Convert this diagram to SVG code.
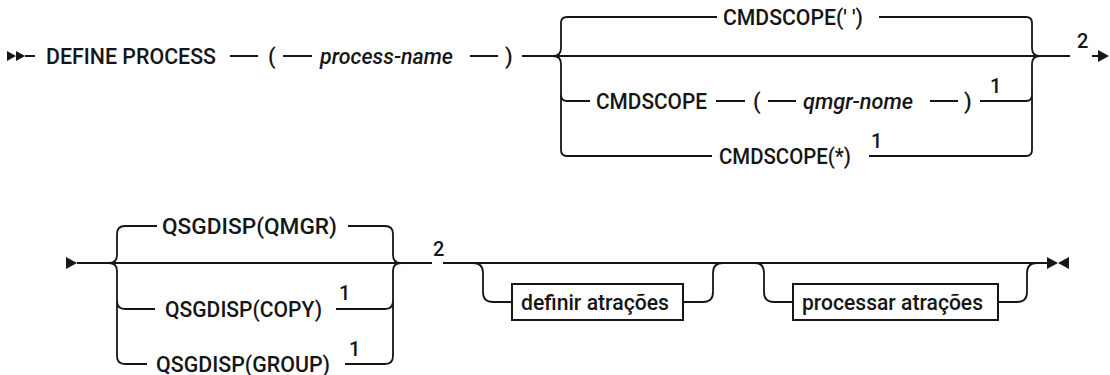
<svg xmlns="http://www.w3.org/2000/svg" width="1110" height="375" viewBox="0 0 1110 375">
<style>
.t{font-family:Roboto,"Liberation Sans",Arial,sans-serif;font-size:22px;font-weight:500;fill:#161616}
.i{font-style:italic}
.n{font-size:20px}
.c{fill:none;stroke:#161616;stroke-width:1.8}
.b{fill:#fff;stroke:#161616;stroke-width:2}
.m{fill:#161616}
</style>
<rect width="1110" height="375" fill="#fff"/>
<g id="connectors">
<path class="c" d="M25,56 H35 M230,56 H258 M283,56 H312 M470,56 H498 M522,56 H1070 M1092,56 H1100"/>
<path class="c" d="M717,17 H567 Q561,17 561,23 V48 Q561,56 553,56 Q561,56 561,64 V150 Q561,156 567,156 H712"/>
<path class="c" d="M561,95 Q561,101 567,101 H590 M716,101 H745 M768,101 H796 M930,101 H958 M980,101 H1026 Q1032,101 1032,95"/>
<path class="c" d="M879,17 H1026 Q1032,17 1032,23 V48 Q1032,56 1040,56 Q1032,56 1032,64 V150 Q1032,156 1026,156 H869"/>
<path class="c" d="M77,263 H432 M443,263 H1047"/>
<path class="c" d="M157,226 H125 Q117,226 117,234 V255 Q117,263 109,263 Q117,263 117,271 V356 Q117,364 125,364 H147 M117,301 Q117,309 125,309 H155"/>
<path class="c" d="M348,226 H385 Q393,226 393,234 V255 Q393,263 401,263 Q393,263 393,271 V356 Q393,364 385,364 H345 M336,309 H385 Q393,309 393,301"/>
<path class="c" d="M473,263 Q483,263 483,273 V292 Q483,302 493,302 H512 M683,302 H703 Q713,302 713,292 V273 Q713,263 723,263"/>
<path class="c" d="M755,263 Q764,263 764,273 V292 Q764,302 774,302 H793 M998,302 H1017 Q1027,302 1027,292 V273 Q1027,263 1037,263"/>
</g>
<g id="start1"><path class="m" d="M7,51 L16,56 L7,61 Z M16,51 L25,56 L16,61 Z"/></g>
<g id="define"><text class="t" x="46" y="64" textLength="170" lengthAdjust="spacingAndGlyphs">DEFINE PROCESS</text></g>
<g id="lp1"><text class="t" x="268" y="64">(</text></g>
<g id="procname"><text class="t i" x="320" y="64" textLength="133" lengthAdjust="spacingAndGlyphs">process-name</text></g>
<g id="rp1"><text class="t" x="505" y="64">)</text></g>
<g id="cmdscope-blank"><text class="t" x="723" y="25" textLength="140" lengthAdjust="spacingAndGlyphs">CMDSCOPE(' ')</text></g>
<g id="cmdscope-q"><text class="t" x="596" y="109" textLength="111" lengthAdjust="spacingAndGlyphs">CMDSCOPE</text><text class="t" x="753" y="109">(</text><text class="t i" x="803" y="109" textLength="110" lengthAdjust="spacingAndGlyphs">qmgr-nome</text><text class="t" x="964" y="109">)</text><text class="t n" x="990" y="93">1</text></g>
<g id="cmdscope-star"><text class="t" x="719" y="164" textLength="132" lengthAdjust="spacingAndGlyphs">CMDSCOPE(*)</text><text class="t n" x="871" y="148">1</text></g>
<g id="note2a"><text class="t n" x="1077" y="48">2</text></g>
<g id="end1"><path class="m" d="M1098,50 L1109,56 L1098,62 Z"/></g>
<g id="start2"><path class="m" d="M66,257 L77,263 L66,269 Z"/></g>
<g id="qmgr"><text class="t" x="162" y="234" textLength="175" lengthAdjust="spacingAndGlyphs">QSGDISP(QMGR)</text></g>
<g id="copy"><text class="t" x="165" y="317" textLength="157" lengthAdjust="spacingAndGlyphs">QSGDISP(COPY)</text><text class="t n" x="339" y="300">1</text></g>
<g id="group"><text class="t" x="156" y="372" textLength="174" lengthAdjust="spacingAndGlyphs">QSGDISP(GROUP)</text><text class="t n" x="349" y="356">1</text></g>
<g id="note2b"><text class="t n" x="433" y="256">2</text></g>
<g id="definir"><rect class="b" x="512" y="284" width="171" height="36"/><text class="t" x="521" y="310" textLength="148" lengthAdjust="spacingAndGlyphs">definir atrações</text></g>
<g id="processar"><rect class="b" x="793" y="284" width="205" height="36"/><text class="t" x="802" y="310" textLength="181" lengthAdjust="spacingAndGlyphs">processar atrações</text></g>
<g id="end2"><path class="m" d="M1047,257 L1058,263 L1047,269 Z M1069,257 L1058,263 L1069,269 Z"/></g>
</svg>
